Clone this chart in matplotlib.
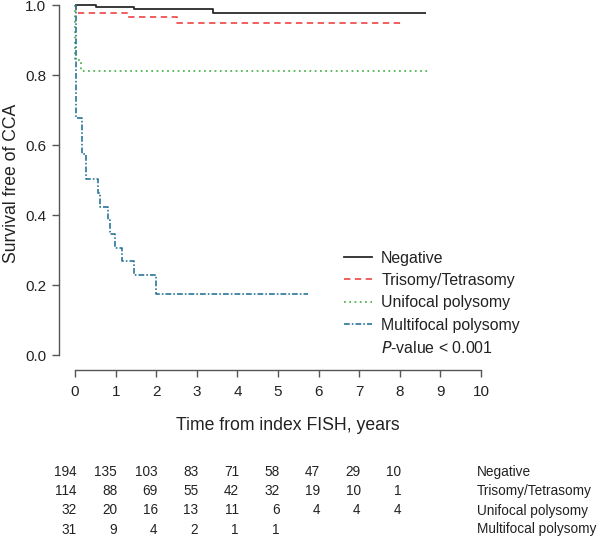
import matplotlib
matplotlib.use("Agg")
import matplotlib.pyplot as plt
from matplotlib.lines import Line2D

plt.rcParams['font.family'] = ['Liberation Sans', 'DejaVu Sans']

# ---- data ----
groups = ["Negative", "Trisomy/Tetrasomy", "Unifocal polysomy", "Multifocal polysomy"]
neg_t = [0, 0.52, 1.45, 3.4, 8.65]
neg_s = [1.0, 0.995, 0.989, 0.978, 0.978]
tri_t = [0, 0.02, 1.3, 2.5, 8.05]
tri_s = [1.0, 0.977, 0.966, 0.950, 0.950]
uni_t = [0, 0.01, 0.14, 8.72]
uni_s = [1.0, 0.844, 0.8125, 0.8125]
mul_t = [0, 0.02, 0.17, 0.27, 0.56, 0.62, 0.80, 0.86, 0.98, 1.16, 1.46, 1.99, 5.74]
mul_s = [1.0, 0.677, 0.574, 0.503, 0.464, 0.425, 0.387, 0.346, 0.307, 0.269, 0.229, 0.175, 0.175]

risk_times = [0, 1, 2, 3, 4, 5, 6, 7, 8]
risk_neg = [194, 135, 103, 83, 71, 58, 47, 29, 10]
risk_tri = [114, 88, 69, 55, 42, 32, 19, 10, 1]
risk_uni = [32, 20, 16, 13, 11, 6, 4, 4, 4]
risk_mul = [31, 9, 4, 2, 1, 1]

x_ticks = list(range(0, 11))
y_ticks = [0.0, 0.2, 0.4, 0.6, 0.8, 1.0]

# ---- figure ----
W, H = 600, 539
fig = plt.figure(figsize=(6.0, 5.39), dpi=100)
left, right = 58.8, 497.2
top_px, bot_px = -8.7, 369.5
ax = fig.add_axes([left / W, 1 - bot_px / H, (right - left) / W, (bot_px - top_px) / H])
ax.set_xlim(-0.4, 10.4)
ax.set_ylim(-0.04, 1.04)
ax.patch.set_alpha(0)

spine_c = '#555555'
for s in ['top', 'right']:
    ax.spines[s].set_visible(False)
ax.spines['left'].set_bounds(0, 1)
ax.spines['bottom'].set_bounds(0, 10)
for s in ['left', 'bottom']:
    ax.spines[s].set_color(spine_c)
    ax.spines[s].set_linewidth(1.0)

ax.set_xticks(x_ticks)
ax.set_yticks(y_ticks)
ax.set_yticklabels([f"{v:.1f}" for v in y_ticks])
ax.tick_params(axis='both', direction='out', length=5, width=1.0, color=spine_c,
               labelsize=11, labelcolor='#222222')
ax.tick_params(axis='x', pad=6)
ax.tick_params(axis='y', pad=4)

lw = 1.15
c_neg = '#2a2a2a'
c_tri = '#ee3b3b'
c_uni = '#3aaa3a'
c_mul = '#1f6f94'

ax.step(neg_t, neg_s, where='post', color=c_neg, lw=1.3, solid_capstyle='butt')
ax.step(tri_t, tri_s, where='post', color=c_tri, lw=lw, dashes=(4, 2.8))
ax.step(uni_t, uni_s, where='post', color=c_uni, lw=lw, dashes=(1.1, 2.2))
ax.step(mul_t, mul_s, where='post', color=c_mul, lw=lw, dashes=(3.6, 1.3, 1.0, 1.3))

handles = [Line2D([0], [0], color=c_neg, lw=1.3),
           Line2D([0], [0], color=c_tri, lw=lw, dashes=(4, 2.8)),
           Line2D([0], [0], color=c_uni, lw=lw, dashes=(1.1, 2.2)),
           Line2D([0], [0], color=c_mul, lw=lw, dashes=(3.6, 1.3, 1.0, 1.3)),
           Line2D([0], [0], color='none', lw=0)]
labels = groups + [r"$\it{P}$-value < 0.001"]
leg = ax.legend(handles, labels, loc='upper left',
                bbox_to_anchor=((344 - left) / (right - left), 1 - (250.5 - top_px) / (bot_px - top_px)),
                frameon=False, fontsize=11.4, handlelength=1.75, handletextpad=0.6,
                labelspacing=0.47, borderaxespad=0, borderpad=0)
for t in leg.get_texts():
    t.set_color('#222222')

# axis labels
fig.text(12 / W, 1 - 183 / H, "Survival free of CCA", rotation=90, ha='center', va='center',
         fontsize=12.7, color='#222222')
fig.text(288 / W, 1 - 425 / H, "Time from index FISH, years", ha='center', va='center',
         fontsize=12.7, color='#222222')

# number at risk table
rows_y = [471.7, 491.2, 510.5, 529.5]
risk_rows = [risk_neg, risk_tri, risk_uni, risk_mul]
for ry, vals, name in zip(rows_y, risk_rows, groups):
    for t, v in zip(risk_times, vals):
        xd = ax.transData.transform((t, 0))[0]
        fig.text((xd + 1.5) / W, 1 - ry / H, str(v), ha='right', va='center',
                 fontsize=9.8, color='#222222')
    fig.text(477 / W, 1 - ry / H, name, ha='left', va='center', fontsize=9.8, color='#222222')

fig.savefig("out.png", dpi=100)
